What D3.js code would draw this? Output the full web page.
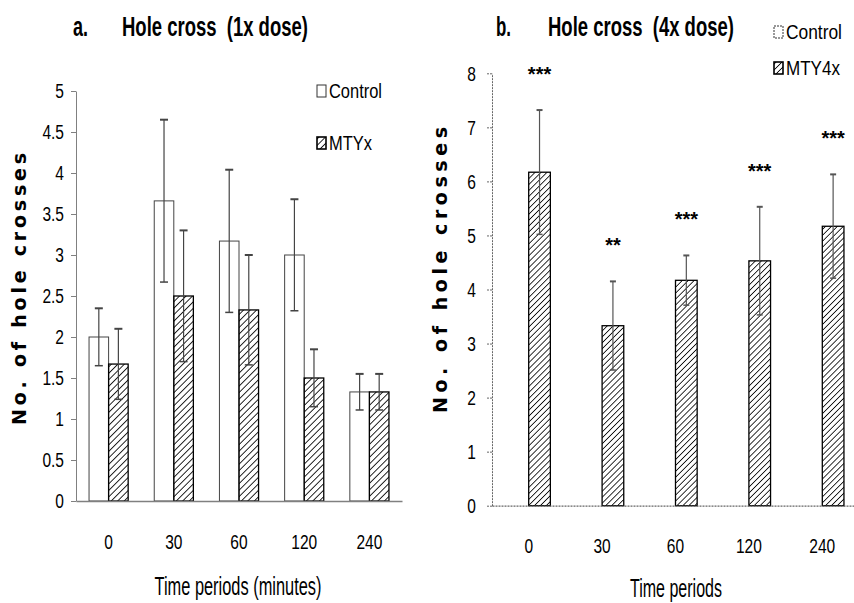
<!DOCTYPE html>
<html>
<head>
<meta charset="utf-8">
<script src="https://cdn.jsdelivr.net/npm/d3@7"></script>
<style>
  body { margin: 0; background: #fff; }
  svg { display: block; }
  text { font-family: "Liberation Sans", Arial, sans-serif; }
</style>
</head>
<body>
<div id="chart-container"></div>
<script>
// data
const categories = ["0", "30", "60", "120", "240"]

const controlA = [2.0, 3.66, 3.17, 3.0, 1.33]
const controlAErr = [0.35, 0.99, 0.87, 0.68, 0.22]
const mtyA = [1.67, 2.5, 2.33, 1.5, 1.33]
const mtyAErr = [0.43, 0.8, 0.67, 0.35, 0.22]

const controlB = [0, 0, 0, 0, 0]
const mtyB = [6.17, 3.33, 4.17, 4.53, 5.17]
const mtyBErr = [1.15, 0.82, 0.46, 1.0, 0.96]
const starsB = ["***", "**", "***", "***", "***"]

const ticksA = [0, 0.5, 1, 1.5, 2, 2.5, 3, 3.5, 4, 4.5, 5]
const ticksB = [0, 1, 2, 3, 4, 5, 6, 7, 8]

const w = 854, h = 603

const svg = d3.select('#chart-container')
  .append('svg')
  .attr('width', w)
  .attr('height', h)

// hatch patterns
const defs = svg.append('defs')
const hatch = (id, size, sw) => {
  defs.append('pattern')
    .attr('id', id)
    .attr('patternUnits', 'userSpaceOnUse')
    .attr('width', size)
    .attr('height', size)
    .attr('patternTransform', 'rotate(45)')
    .append('line')
    .attr('x1', 0).attr('y1', 0)
    .attr('x2', 0).attr('y2', size)
    .attr('stroke', '#000')
    .attr('stroke-width', sw)
}
hatch('hatchA', 4.6, 1.7)
hatch('hatchB', 4.2, 1.6)

// squeeze text horizontally (the source figure uses a narrow font)
const condense = (sel, k) => {
  sel.each(function () {
    const t = d3.select(this)
    const x = +t.attr('x') || 0
    const y = +t.attr('y') || 0
    t.attr('transform', `translate(${x},${y}) scale(${k},1)`)
      .attr('x', 0).attr('y', 0)
  })
}

// text squeezed to a given width
const label = (g, x, y, size, len, str, anchor, weight) => {
  const t = g.append('text')
    .attr('font-size', size)
    .attr('font-weight', weight || 'normal')
    .attr('text-anchor', anchor || 'start')
    .style('white-space', 'pre')
    .text(str)
  const k = len / t.node().getComputedTextLength()
  t.attr('transform', `translate(${x},${y}) scale(${k},1)`)
  return t
}

const drawPanel = (opt) => {
  const g = svg.append('g')

  const x0 = d3.scaleBand()
    .domain(categories)
    .range(opt.xRange)
    .paddingInner(opt.pad)
    .paddingOuter(opt.pad / 2)

  const x1 = d3.scaleBand()
    .domain(['control', 'mty'])
    .range([0, x0.bandwidth()])

  const y = d3.scaleLinear()
    .domain(opt.yDomain)
    .range(opt.yRange)

  const rows = categories.map((c, i) => ({
    cat: c,
    control: opt.control[i],
    controlErr: opt.controlErr ? opt.controlErr[i] : null,
    mty: opt.mty[i],
    mtyErr: opt.mtyErr[i],
    star: opt.stars ? opt.stars[i] : null
  }))

  // bars
  g.selectAll('rect.control')
    .data(rows)
    .enter()
    .append('rect')
    .attr('class', 'control')
    .attr('x', d => x0(d.cat) + x1('control'))
    .attr('y', d => y(d.control))
    .attr('width', x1.bandwidth())
    .attr('height', d => y(0) - y(d.control))
    .attr('fill', '#fff')
    .attr('stroke', '#444')
    .attr('stroke-width', 1)

  g.selectAll('rect.mty')
    .data(rows)
    .enter()
    .append('rect')
    .attr('class', 'mty')
    .attr('x', d => x0(d.cat) + x1('mty'))
    .attr('y', d => y(d.mty))
    .attr('width', x1.bandwidth())
    .attr('height', d => y(0) - y(d.mty))
    .attr('fill', `url(#${opt.hatchId})`)
    .attr('stroke', '#000')
    .attr('stroke-width', 1.3)

  // error bars
  const errs = []
  rows.forEach(d => {
    if (d.controlErr !== null && d.control > 0) {
      errs.push({ cx: x0(d.cat) + x1('control') + x1.bandwidth() / 2, v: d.control, e: d.controlErr })
    }
    errs.push({ cx: x0(d.cat) + x1('mty') + x1.bandwidth() / 2, v: d.mty, e: d.mtyErr })
  })
  const cap = opt.cap
  const eg = g.selectAll('g.err')
    .data(errs)
    .enter()
    .append('g')
    .attr('class', 'err')
    .attr('stroke', opt.errColor)
    .attr('stroke-width', 1.2)
  eg.append('line')
    .attr('x1', d => d.cx).attr('x2', d => d.cx)
    .attr('y1', d => y(d.v - d.e)).attr('y2', d => y(d.v + d.e))
  eg.append('line')
    .attr('x1', d => d.cx - cap).attr('x2', d => d.cx + cap)
    .attr('y1', d => y(d.v + d.e)).attr('y2', d => y(d.v + d.e))
    .attr('stroke-width', 2)
  eg.append('line')
    .attr('x1', d => d.cx - cap).attr('x2', d => d.cx + cap)
    .attr('y1', d => y(d.v - d.e)).attr('y2', d => y(d.v - d.e))
    .attr('stroke-width', 1.5)

  // significance stars
  if (opt.stars) {
    g.selectAll('text.star')
      .data(rows)
      .enter()
      .append('text')
      .attr('class', 'star')
      .attr('x', d => x0(d.cat) + x1('mty') + x1.bandwidth() / 2)
      .attr('y', d => y(d.mty + d.mtyErr) - 40 + 11)
      .attr('text-anchor', 'middle')
      .attr('font-size', 20)
      .attr('font-weight', 'bold')
      .text(d => d.star)
  }

  // axes
  const yAxis = d3.axisLeft(y)
    .tickValues(opt.ticks)
    .tickSize(5)
    .tickSizeOuter(0)
    .tickPadding(opt.yPad)
    .tickFormat(d => d)
  const ya = g.append('g')
    .attr('transform', `translate(${opt.xRange[0]},0)`)
    .call(yAxis)
    .attr('font-family', null)
  ya.selectAll('path, line')
    .attr('stroke', opt.axisColor)
    .attr('stroke-dasharray', opt.dash)
  ya.selectAll('text')
    .attr('font-size', 21)
    .attr('fill', '#000')
    .call(condense, 0.74)

  const xAxis = d3.axisBottom(x0)
    .tickSize(0)
    .tickPadding(opt.xPad)
  const xa = g.append('g')
    .attr('transform', `translate(0,${y(0)})`)
    .call(xAxis)
    .attr('font-family', null)
  xa.select('path')
    .attr('stroke', opt.axisColor)
    .attr('stroke-width', 1.3)
    .attr('stroke-dasharray', opt.dash)
  xa.selectAll('text')
    .attr('font-size', 21)
    .attr('fill', '#000')
    .attr('dy', null)
    .call(condense, 0.74)

  // y axis title
  g.append('text')
    .attr('transform', `translate(${opt.yTitleX},${opt.yTitleY}) rotate(-90)`)
    .attr('text-anchor', 'middle')
    .style('font-family', 'DejaVu Sans, Verdana, sans-serif')
    .attr('font-weight', 'bold')
    .attr('font-size', 19)
    .attr('textLength', opt.yTitleLen)
    .attr('lengthAdjust', 'spacing')
    .text('No. of hole crosses')

  // x axis title
  label(g, opt.xTitleX, opt.xTitleY, 25, opt.xTitleLen, opt.xTitle, 'middle')

  // panel title
  label(g, opt.letterX, 36, 27, 15, opt.letter, 'start', 'bold')
  label(g, opt.titleX, 36, 27, 186, opt.title, 'start', 'bold')

  // legend
  const lg = g.append('g')
  lg.append('rect')
    .attr('x', opt.legX).attr('y', opt.legY1 - 13)
    .attr('width', 9).attr('height', 12)
    .attr('fill', '#fff').attr('stroke', '#333').attr('stroke-width', 1)
    .attr('stroke-dasharray', opt.dash)
  label(lg, opt.legX + 12, opt.legY1, 20, opt.legLen1, 'Control')
  lg.append('rect')
    .attr('x', opt.legX).attr('y', opt.legY2 - 13)
    .attr('width', 9).attr('height', 12)
    .attr('fill', `url(#${opt.hatchId})`).attr('stroke', '#000').attr('stroke-width', 1.6)
  label(lg, opt.legX + 12, opt.legY2, 20, opt.legLen2, opt.legName)
}

drawPanel({
  xRange: [76, 402], pad: 0.4,
  yDomain: [0, 5], yRange: [501, 91], ticks: ticksA, yPad: 7, xPad: 48,
  control: controlA, controlErr: controlAErr, mty: mtyA, mtyErr: mtyAErr,
  hatchId: 'hatchA', cap: 4, errColor: '#444', axisColor: '#808080', dash: null,
  yTitleX: 26, yTitleY: 289, yTitleLen: 272,
  xTitle: 'Time periods (minutes)', xTitleX: 238, xTitleY: 595, xTitleLen: 167,
  letter: 'a.', letterX: 73, title: 'Hole cross  (1x dose)', titleX: 122,
  legX: 317, legY1: 98, legY2: 150, legName: 'MTYx', legLen1: 53, legLen2: 43
})

drawPanel({
  xRange: [492, 859], pad: 0.41,
  yDomain: [0, 8], yRange: [505.7, 73.3], ticks: ticksB, yPad: 11, xPad: 47,
  control: controlB, controlErr: null, mty: mtyB, mtyErr: mtyBErr, stars: starsB,
  hatchId: 'hatchB', cap: 3, errColor: '#555', axisColor: '#666', dash: '2,1',
  yTitleX: 447, yTitleY: 270, yTitleLen: 286,
  xTitle: 'Time periods', xTitleX: 676, xTitleY: 597, xTitleLen: 92,
  letter: 'b.', letterX: 496, title: 'Hole cross  (4x dose)', titleX: 548,
  legX: 774, legY1: 39, legY2: 75, legName: 'MTY4x', legLen1: 56, legLen2: 54
})
</script>
</body>
</html>
